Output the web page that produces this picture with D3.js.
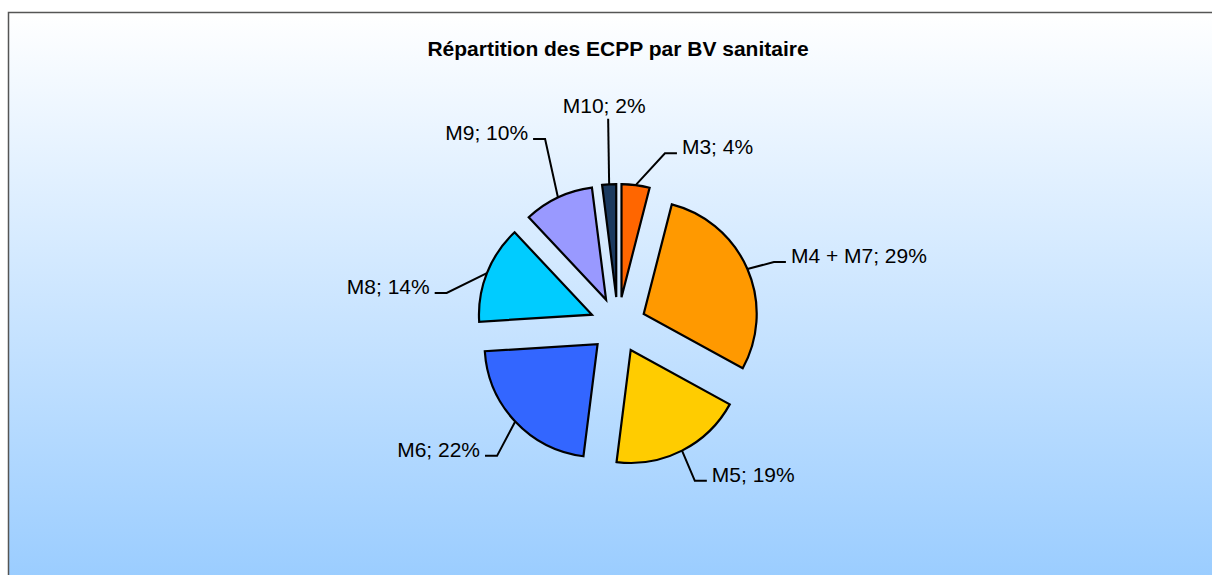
<!DOCTYPE html>
<html>
<head>
<meta charset="utf-8">
<script src="https://cdn.jsdelivr.net/npm/d3@7"></script>
<style>
  body { margin: 0; background: #fff; }
  text { font-family: "Liberation Sans", Arial, sans-serif; fill: #000; }
</style>
</head>
<body>
<div id="chart"></div>
<script>
// data
var sectors = ["M3", "M4 + M7", "M5", "M6", "M8", "M9", "M10"];
var shares = [4, 29, 19, 22, 14, 10, 2];
var sliceColors = ["#FF6600", "#FF9900", "#FFCC00", "#3366FF", "#00CCFF", "#9999FF", "#1B3A5F"];
var title = "Répartition des ECPP par BV sanitaire";

// label placement: turn (deg) from mid angle, reach as factor of radius
var labelTurn = [9.6, 1.7, 0.9, -4.8, -13.1, 4.4, 1.0];
var labelReach = [1.33, 1.24, 1.29, 1.33, 1.30, 1.52, 1.58];

var svgWidth = 1212;
var svgHeight = 575;
var cx = 618, cy = 325;
var radius = 113;
var explode = 28;

var svg = d3.select("#chart")
  .append("svg")
  .attr("width", svgWidth)
  .attr("height", svgHeight);

var defs = svg.append("defs");
var grad = defs.append("linearGradient")
  .attr("id", "bg")
  .attr("x1", 0).attr("y1", 0).attr("x2", 0).attr("y2", 1);
grad.append("stop").attr("offset", "0%").attr("stop-color", "#FFFFFF");
grad.append("stop").attr("offset", "100%").attr("stop-color", "#99CCFF");

// chart area with border
svg.append("rect")
  .attr("x", 8.5)
  .attr("y", 12.5)
  .attr("width", svgWidth)
  .attr("height", svgHeight)
  .attr("fill", "url(#bg)")
  .attr("stroke", "#555")
  .attr("stroke-width", 1.5);

svg.append("text")
  .attr("x", cx)
  .attr("y", 56)
  .attr("text-anchor", "middle")
  .attr("font-size", "21px")
  .attr("font-weight", "bold")
  .text(title);

var data = sectors.map(function(s, i) {
  return { name: s, value: shares[i], color: sliceColors[i], turn: labelTurn[i], reach: labelReach[i] };
});

var pie = d3.pie()
  .sort(null)
  .value(d => d.value);

var arc = d3.arc()
  .innerRadius(0)
  .outerRadius(radius);

var arcs = pie(data);

function polar(a, r) {
  return [Math.sin(a) * r, -Math.cos(a) * r];
}

var pieGroup = svg.append("g")
  .attr("transform", `translate(${cx}, ${cy})`);

var slices = pieGroup.selectAll("g.slice")
  .data(arcs)
  .enter()
  .append("g")
  .attr("class", "slice")
  .attr("transform", function(d) {
    var mid = (d.startAngle + d.endAngle) / 2;
    var p = polar(mid, explode);
    return `translate(${p[0]}, ${p[1]})`;
  });

slices.append("path")
  .attr("d", arc)
  .attr("fill", d => d.data.color)
  .attr("stroke", "#000")
  .attr("stroke-width", 2.2)
  .attr("stroke-linejoin", "miter");

// leader lines and labels
slices.each(function(d) {
  var g = d3.select(this);
  var mid = (d.startAngle + d.endAngle) / 2;
  var start = polar(mid, radius);
  var elbowA = mid + d.data.turn * Math.PI / 180;
  var elbow = polar(elbowA, radius * d.data.reach);
  var label = d.data.name + "; " + d.data.value + "%";

  if (Math.abs(Math.sin(elbowA)) < 0.1) {
    // label straight above the slice
    g.append("line")
      .attr("x1", start[0]).attr("y1", start[1])
      .attr("x2", elbow[0]).attr("y2", elbow[1])
      .attr("stroke", "#000").attr("stroke-width", 2);
    g.append("text")
      .attr("x", elbow[0] - 4)
      .attr("y", elbow[1] - 6)
      .attr("text-anchor", "middle")
      .attr("font-size", "21px")
      .text(label);
    return;
  }

  var side = Math.sin(elbowA) > 0 ? 1 : -1;
  var tail = [elbow[0] + side * 12, elbow[1]];
  g.append("polyline")
    .attr("points", [start, elbow, tail].map(p => p.join(",")).join(" "))
    .attr("fill", "none")
    .attr("stroke", "#000")
    .attr("stroke-width", 2);
  g.append("text")
    .attr("x", tail[0] + side * 5)
    .attr("y", tail[1] + 1)
    .attr("text-anchor", side > 0 ? "start" : "end")
    .attr("font-size", "21px")
    .text(label);
});
</script>
</body>
</html>
